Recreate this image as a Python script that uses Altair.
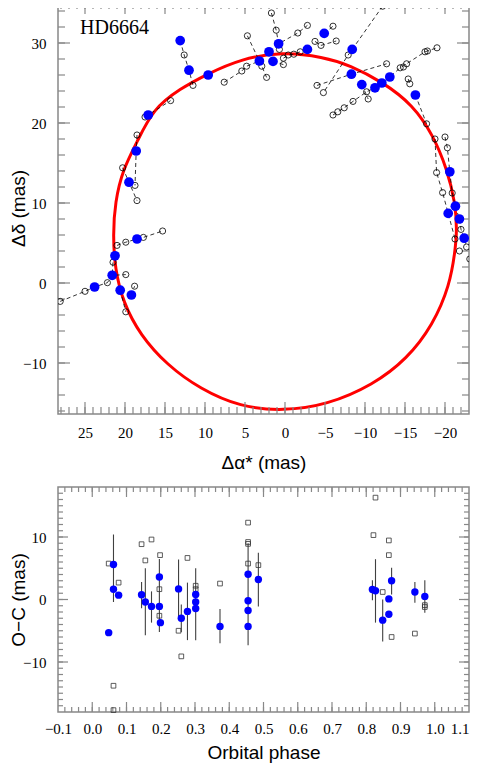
import altair as alt
import pandas as pd

# ---------------- data ----------------
LABEL = "HD6664"

# fitted orbit (red ellipse)
ORBIT_RA = [0.25, 5.6, 9.75, 13.1, 16.5, 18.5, 20.25, 21.25, 21.5, 21.25, 20.25, 18.1,
            14.75, 10.6, 5.6, 0.25, -5.25, -11.0, -15.25, -18.5, -20.6, -21.25, -21.5,
            -21.3, -20.25, -18.5, -16.0, -12.25, -8.1, -4.75]
ORBIT_DEC = [28.9, 28.0, 26.1, 24.3, 21.75, 17.6, 14.25, 10.1, 6.0, 1.75, -2.4, -6.5,
             -10.25, -13.25, -15.5, -16.0, -15.25, -12.75, -9.5, -5.25, -0.25, 3.9, 6.5,
             10.0, 14.25, 18.5, 22.25, 25.1, 27.25, 28.25]

# filled blue points (relative astrometry)
BLUE_RA = [13.1, 12.0, 9.6, 17.1, 18.6, 19.5, 18.5, 21.25, 21.6, 23.8, 20.6, 19.2,
           3.2, 2.0, 1.5, 0.8, -2.8, -4.9, -8.4, -8.3, -9.6, -11.25, -12.1, -13.1,
           -16.3, -20.6, -21.3, -20.4, -21.8, -22.4]
BLUE_DEC = [30.3, 26.6, 26.0, 21.0, 16.5, 12.6, 5.5, 3.4, 0.96, -0.5, -0.9, -1.5,
            27.75, 28.9, 27.7, 29.9, 29.2, 31.2, 29.2, 26.1, 24.8, 24.4, 25.0, 25.75,
            23.5, 13.9, 9.6, 8.7, 8.0, 5.6]

# open circles
OPEN_RA = [12.6, 11.5, 17.5, 14.3, 18.5, 18.75, 20.3, 18.5, 21.0, 19.9, 17.7, 15.3,
           21.5, 28.1, 25.0, 22.2, 19.9, 19.9, 18.8,
           7.6, 5.4, 4.8, 4.7, 2.9, 2.3, 1.7, 1.1, -1.6, -2.8, 0.7, 0.2, 0.2, -0.4,
           -1.1, -1.9, -3.75, -4.5, -6.4, -6.0,
           -12.2, -7.9, -4.8, -4.0, -12.7,
           -6.0, -6.6, -7.4, -8.5, -10.2, -10.4, -14.4, -14.8, -15.2, -17.5, -17.8,
           -19.0, -15.4, -15.6,
           -17.7, -18.75, -20.0, -20.3, -18.95, -19.7, -20.9, -22.0, -21.25, -22.7,
           -21.8, -23.1]
OPEN_DEC = [28.5, 24.7, 20.75, 22.8, 18.5, 12.2, 14.4, 10.3, 4.7, 5.1, 5.7, 6.5,
            2.6, -2.3, -1.04, 0.04, 1.05, -3.6, -0.4,
            25.1, 26.5, 27.1, 30.9, 27.1, 25.7, 33.75, 31.6, 31.25, 32.2, 29.2, 28.1,
            27.3, 28.5, 28.6, 28.9, 30.2, 29.7, 30.25, 32.1,
            34.6, 28.5, 23.8, 24.7, 27.4,
            21.0, 21.4, 21.9, 22.7, 23.9, 23.0, 26.9, 27.0, 27.4, 28.9, 29.0,
            29.4, 25.5, 24.9,
            19.9, 18.0, 18.25, 16.9, 13.8, 11.3, 11.25, 6.7, 5.5, 4.5, 4.0, 3.0]

# dashed connecting lines (each a short polyline of (ra, dec))
TRACKS = [
    [(13.1, 30.3), (12.6, 28.5), (12.0, 26.6), (11.5, 24.7)],
    [(17.5, 20.75), (17.1, 21.0), (14.3, 22.8)],
    [(18.5, 18.5), (18.6, 16.5), (18.75, 12.2)],
    [(20.3, 14.4), (19.5, 12.6), (18.5, 10.3)],
    [(21.0, 4.7), (19.9, 5.1), (18.5, 5.5), (17.7, 5.7), (15.3, 6.5)],
    [(21.25, 3.4), (21.5, 2.6), (21.6, 0.96)],
    [(28.1, -2.3), (25.0, -1.04), (23.8, -0.5), (22.2, 0.04), (21.6, 0.96), (19.9, 1.05)],
    [(20.6, -0.9), (19.9, -3.6)],
    [(19.2, -1.5), (18.8, -0.4)],
    [(7.6, 25.1), (5.4, 26.5), (4.8, 27.1), (3.2, 27.75)],
    [(4.7, 30.9), (3.2, 27.75), (2.9, 27.1), (2.3, 25.7)],
    [(1.7, 33.75), (1.1, 31.6), (0.8, 29.9), (-1.6, 31.25), (-2.8, 32.2)],
    [(0.2, 28.1), (-0.4, 28.5), (-1.1, 28.6), (-1.9, 28.9), (-2.8, 29.2)],
    [(1.5, 27.7), (0.2, 27.3)],
    [(-3.75, 30.2), (-4.5, 29.7), (-6.4, 30.25)],
    [(-4.9, 31.2), (-6.0, 32.1)],
    [(-12.2, 34.6), (-8.4, 29.2), (-7.9, 28.5), (-4.8, 23.8)],
    [(-4.0, 24.7), (-8.3, 26.1), (-12.7, 27.4)],
    [(-6.0, 21.0), (-6.6, 21.4), (-7.4, 21.9), (-8.5, 22.7), (-10.2, 23.9), (-11.25, 24.4),
     (-12.1, 25.0), (-13.1, 25.75), (-14.4, 26.9), (-15.2, 27.4), (-17.5, 28.9), (-19.0, 29.4)],
    [(-9.6, 24.8), (-10.4, 23.0)],
    [(-16.3, 23.5), (-17.7, 19.9)],
    [(-15.4, 25.5), (-15.6, 24.9)],
    [(-20.0, 18.25), (-20.3, 16.9), (-20.6, 13.9)],
    [(-18.75, 18.0), (-18.95, 13.8), (-19.7, 11.3), (-20.4, 8.7), (-21.25, 5.5)],
    [(-20.6, 13.9), (-20.9, 11.25), (-21.3, 9.6), (-21.8, 8.0), (-22.0, 6.7), (-22.4, 5.6), (-22.7, 4.5)],
]

# O-C panel
PH_BLUE = [0.048, 0.062, 0.062, 0.077, 0.144, 0.155, 0.173, 0.196, 0.196, 0.199,
           0.252, 0.260, 0.278, 0.302, 0.302, 0.302, 0.373, 0.455, 0.455, 0.455,
           0.455, 0.485, 0.818, 0.827, 0.848, 0.866, 0.866, 0.874, 0.942, 0.971]
OC_BLUE = [-5.3, 5.6, 1.65, 0.7, 0.75, -0.4, -1.1, 3.6, -1.1, -3.7,
           1.7, -3.0, -1.9, 0.8, -0.4, -1.45, -4.3, 4.05, -0.2, -1.75,
           -4.3, 3.2, 1.6, 1.4, -3.3, 0.1, -2.35, 3.0, 1.2, 0.5]

BAR_PH = [0.062, 0.144, 0.155, 0.173, 0.196, 0.252, 0.260, 0.278, 0.302, 0.373,
          0.455, 0.485, 0.818, 0.827, 0.848, 0.874, 0.942, 0.971]
BAR_LO = [-0.4, -1.4, -5.7, -3.7, -5.2, -3.0, -5.2, -6.5, -6.5, -7.0,
          -7.3, -1.1, -0.1, -3.7, -6.7, 0.8, -0.5, -2.1]
BAR_HI = [10.4, 2.8, 5.0, 1.3, 6.5, 6.4, -0.8, 2.7, 5.0, -1.5,
          9.0, 7.5, 3.1, 6.45, 0.0, 5.1, 2.8, 3.1]

SQ_PH = [0.048, 0.077, 0.062, 0.062, 0.144, 0.155, 0.173, 0.198, 0.196, 0.196,
         0.252, 0.260, 0.278, 0.302, 0.302, 0.373, 0.455, 0.455, 0.455, 0.455,
         0.485, 0.827, 0.821, 0.866, 0.866, 0.848, 0.874, 0.942, 0.971, 0.971]
SQ_OC = [5.75, 2.7, -13.8, -17.7, 8.85, 6.25, 9.6, 7.1, 1.65, -2.6,
         -5.0, -9.1, 6.65, 2.2, 1.65, 2.55, 12.3, 9.2, 8.9, 5.75,
         5.5, 16.3, 10.3, 9.45, 7.1, 1.2, -6.0, -5.45, -1.2, -0.9]

# axes / ticks
RA_DOMAIN = [-23.0, 28.375]
DEC_DOMAIN = [-16.375, 35.125]
RA_LABELS = [25, 20, 15, 10, 5, 0, -5, -10, -15, -20]
RA_MINOR = list(range(-22, 29))
DEC_LABELS = [30, 20, 10, 0, -10]
DEC_MINOR = list(range(-16, 36, 2))
PH_DOMAIN = [-0.1, 1.1]
PH_LABELS = [round(-0.1 + 0.1 * i, 1) for i in range(13)]
PH_MAJOR = [round(0.1 * i, 1) for i in range(11)]
PH_MINOR = [round(-0.08 + 0.02 * i, 2) for i in range(59)]
OC_DOMAIN = [-18, 18]
OC_LABELS = [10, 0, -10]
OC_MINOR = list(range(-17, 18))

W1, H1 = 411, 412
W2, H2 = 411, 225

# ---------------- styling ----------------
GRAY = "#888888"
SERIF = "Liberation Serif"
SANS = "Liberation Sans"


def label_axis(orient, values, fmt, title, lpad, tpad, **kw):
    return alt.Axis(orient=orient, values=values, ticks=False, domain=False, grid=False,
                    format=fmt, labelFont=SERIF, labelFontSize=15, labelColor="black",
                    labelPadding=lpad, labelFlush=False, labelOverlap=False,
                    title=title, titleFont=SANS, titleFontSize=19,
                    titleFontWeight="normal", titleColor="black", titlePadding=tpad, **kw)


ra_scale = alt.Scale(domain=RA_DOMAIN, reverse=True, nice=False, zero=False)
dec_scale = alt.Scale(domain=DEC_DOMAIN, nice=False, zero=False)
ph_scale = alt.Scale(domain=PH_DOMAIN, nice=False, zero=False)
oc_scale = alt.Scale(domain=OC_DOMAIN, nice=False, zero=False)


def x_ticks(values, scale, length, height):
    df = pd.DataFrame({"v": values})
    base = alt.Chart(df).mark_rule(color=GRAY, strokeWidth=1.2)
    bottom = base.encode(x=alt.X("v:Q", scale=scale, axis=None),
                         y=alt.value(height), y2=alt.value(height - length))
    top = base.encode(x=alt.X("v:Q", scale=scale, axis=None),
                      y=alt.value(0), y2=alt.value(length))
    return [bottom, top]


def y_ticks(values, scale, length, width):
    df = pd.DataFrame({"v": values})
    base = alt.Chart(df).mark_rule(color=GRAY, strokeWidth=1.2)
    left = base.encode(y=alt.Y("v:Q", scale=scale, axis=None),
                       x=alt.value(0), x2=alt.value(length))
    right = base.encode(y=alt.Y("v:Q", scale=scale, axis=None),
                        x=alt.value(width), x2=alt.value(width - length))
    return [left, right]


# ---------------- frames ----------------
orbit_df = pd.DataFrame({"ra": ORBIT_RA, "dec": ORBIT_DEC, "i": range(len(ORBIT_RA))})
blue_df = pd.DataFrame({"ra": BLUE_RA, "dec": BLUE_DEC})
open_df = pd.DataFrame({"ra": OPEN_RA, "dec": OPEN_DEC})
rows = []
for t, trk in enumerate(TRACKS):
    for k, (a, d) in enumerate(trk):
        rows.append({"track": t, "k": k, "ra": a, "dec": d})
track_df = pd.DataFrame(rows)

oc_blue_df = pd.DataFrame({"ph": PH_BLUE, "oc": OC_BLUE})
bar_df = pd.DataFrame({"ph": BAR_PH, "lo": BAR_LO, "hi": BAR_HI})
sq_df = pd.DataFrame({"ph": SQ_PH, "oc": SQ_OC})

# ---------------- top panel ----------------
orbit = alt.Chart(orbit_df).mark_line(color="#ff0000", strokeWidth=3,
                                      interpolate="basis-closed").encode(
    x=alt.X("ra:Q", scale=ra_scale,
            axis=label_axis("bottom", RA_LABELS, "d", "Δα* (mas)", 11, 13.5)),
    y=alt.Y("dec:Q", scale=dec_scale,
            axis=label_axis("left", DEC_LABELS, "d", "Δδ (mas)", 12, -5.5)),
    order=alt.Order("i:Q"),
)

dashes = alt.Chart(track_df).mark_line(color="black", strokeWidth=0.8,
                                       strokeDash=[4, 3], clip=True).encode(
    x=alt.X("ra:Q", scale=ra_scale, axis=None),
    y=alt.Y("dec:Q", scale=dec_scale, axis=None),
    detail="track:N",
    order=alt.Order("k:Q"),
)

opens = alt.Chart(open_df).mark_point(shape="circle", size=38, stroke="black",
                                      strokeWidth=0.8, filled=False, opacity=1,
                                      clip=True).encode(
    x=alt.X("ra:Q", scale=ra_scale, axis=None),
    y=alt.Y("dec:Q", scale=dec_scale, axis=None),
)

blues = alt.Chart(blue_df).mark_point(shape="circle", size=95, filled=True,
                                      color="#0000ff", opacity=1, clip=True).encode(
    x=alt.X("ra:Q", scale=ra_scale, axis=None),
    y=alt.Y("dec:Q", scale=dec_scale, axis=None),
)

label = alt.Chart(pd.DataFrame({"t": [LABEL]})).mark_text(
    font=SERIF, fontSize=20, align="left", baseline="alphabetic", color="black"
).encode(x=alt.value(22), y=alt.value(32), text="t:N")

top_ticks = (x_ticks(RA_LABELS, ra_scale, 12, H1) + x_ticks(RA_MINOR, ra_scale, 7, H1)
             + y_ticks(DEC_LABELS, dec_scale, 12, W1) + y_ticks(DEC_MINOR, dec_scale, 7, W1))

top = alt.layer(orbit, *top_ticks, dashes, opens, blues, label).resolve_axis(
    x="independent", y="independent").properties(width=W1, height=H1)

# ---------------- bottom panel ----------------
last_right = {"condition": {"test": "datum.value > 1.05", "value": "right"}, "value": "center"}

bars = alt.Chart(bar_df).mark_rule(color="#404040", strokeWidth=1.1).encode(
    x=alt.X("ph:Q", scale=ph_scale,
            axis=label_axis("bottom", PH_LABELS, ".1f", "Orbital phase", 9.5, 7,
                            labelAlign=last_right)),
    y=alt.Y("lo:Q", scale=oc_scale,
            axis=label_axis("left", OC_LABELS, "d", "O−C (mas)", 12, -5.5)),
    y2="hi:Q",
)

squares = alt.Chart(sq_df).mark_point(shape="square", size=22, stroke="#333333",
                                      strokeWidth=0.8, filled=False, opacity=1).encode(
    x=alt.X("ph:Q", scale=ph_scale, axis=None),
    y=alt.Y("oc:Q", scale=oc_scale, axis=None),
)

oc_blues = alt.Chart(oc_blue_df).mark_point(shape="circle", size=55, filled=True,
                                            color="#0000ff", opacity=1).encode(
    x=alt.X("ph:Q", scale=ph_scale, axis=None),
    y=alt.Y("oc:Q", scale=oc_scale, axis=None),
)

bottom_ticks = (x_ticks(PH_MAJOR, ph_scale, 10, H2) + x_ticks(PH_MINOR, ph_scale, 5, H2)
                + y_ticks(OC_LABELS, oc_scale, 10, W2) + y_ticks(OC_MINOR, oc_scale, 5, W2))

bottom = alt.layer(bars, *bottom_ticks, squares, oc_blues).resolve_axis(
    x="independent", y="independent").properties(width=W2, height=H2)

chart = alt.vconcat(top, bottom, spacing=11).properties(
    padding={"top": -8, "left": 0, "right": 0, "bottom": 0}
).configure_view(stroke=GRAY, strokeWidth=1.5)

chart.save("out.html", embed_options={"renderer": "svg", "actions": False})
